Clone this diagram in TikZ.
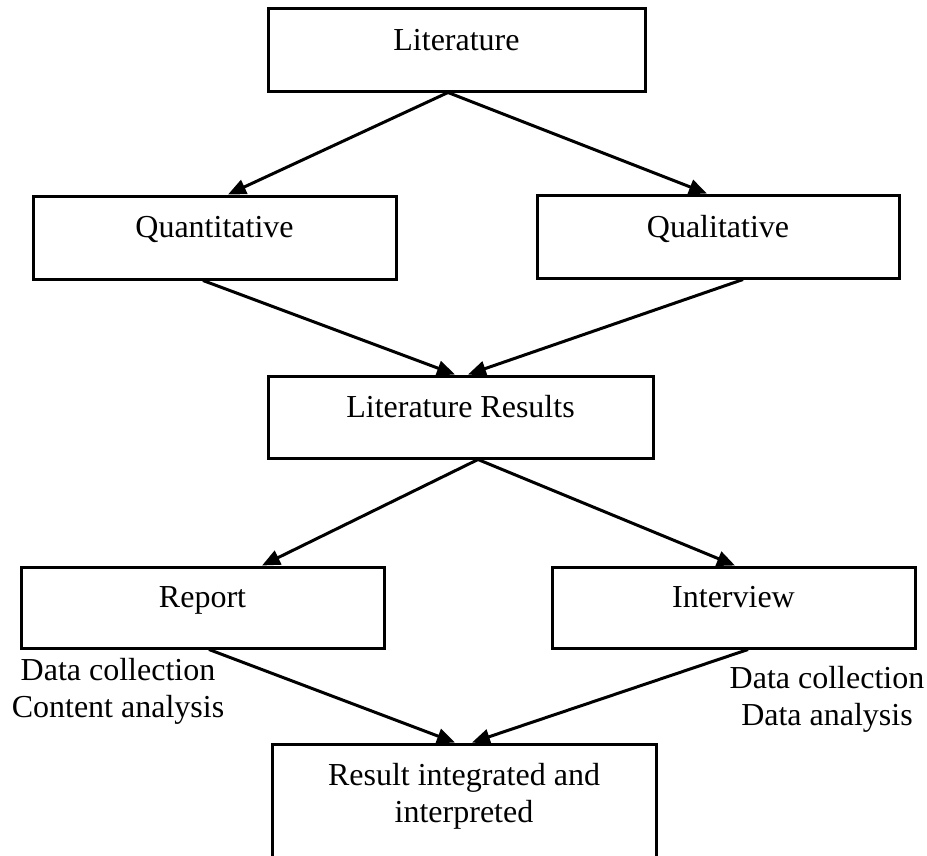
\documentclass[tikz,border=0pt]{standalone}
\usepackage{fontspec}
\setmainfont{Liberation Serif}
\usetikzlibrary{arrows.meta}
\begin{document}
\begin{tikzpicture}[x=1pt,y=-1pt,
  box/.style={draw, line width=3pt, inner xsep=0pt, inner ysep=0pt, anchor=base, font=\fontsize{32}{37}\selectfont},
  lbl/.style={inner sep=0pt, anchor=base, font=\fontsize{32}{37}\selectfont},
  arr/.style={line width=3pt, -{Triangle[length=18pt,width=15pt]}}]
\useasboundingbox (0,0) rectangle (927,855);
\clip (0,0) rectangle (927,855);
% boxes
\node[box, minimum width=377pt, text height=42pt, text depth=41pt] (lit) at (456.5,50) {Literature};
\node[box, minimum width=363pt, text height=41pt, text depth=42pt] (quant) at (214.5,237) {Quantitative};
\node[box, minimum width=362pt, text height=42pt, text depth=41pt] (qual) at (718,237) {Qualitative};
\node[box, minimum width=385pt, text height=41pt, text depth=41pt] (litres) at (460.5,417) {Literature Results};
\node[box, minimum width=363pt, text height=40pt, text depth=41pt] (report) at (202.5,607) {Report};
\node[box, minimum width=363pt, text height=40pt, text depth=41pt] (interview) at (733.5,607) {Interview};
\node[box, minimum width=384pt, text height=41pt, text depth=89pt] (res) at (464,785)
  {\begin{tabular}[t]{@{}c@{}}Result integrated and\\interpreted\end{tabular}};
% side labels
\node[lbl] (lefttxt) at (118,680) {\begin{tabular}[t]{@{}c@{}}Data collection\\Content analysis\end{tabular}};
\node[lbl] (righttxt) at (827,688) {\begin{tabular}[t]{@{}c@{}}Data collection\\Data analysis\end{tabular}};
% connectors
\draw[arr] ([xshift=-8.5pt]lit.south) -- ([xshift=13.5pt]quant.north);
\draw[arr] ([xshift=-8.5pt]lit.south) -- ([xshift=-11pt]qual.north);
\draw[arr] ([xshift=-11.5pt]quant.south) -- ([xshift=-5.5pt]litres.north);
\draw[arr] ([xshift=25pt]qual.south) -- ([xshift=7.5pt]litres.north);
\draw[arr] ([xshift=17.5pt]litres.south) -- ([xshift=59.5pt]report.north);
\draw[arr] ([xshift=17.5pt]litres.south) -- ([xshift=1.5pt]interview.north);
\draw[arr] ([xshift=6.5pt]report.south) -- ([xshift=-9pt]res.north);
\draw[arr] ([xshift=14.5pt]interview.south) -- ([xshift=8pt]res.north);
\end{tikzpicture}
\end{document}
